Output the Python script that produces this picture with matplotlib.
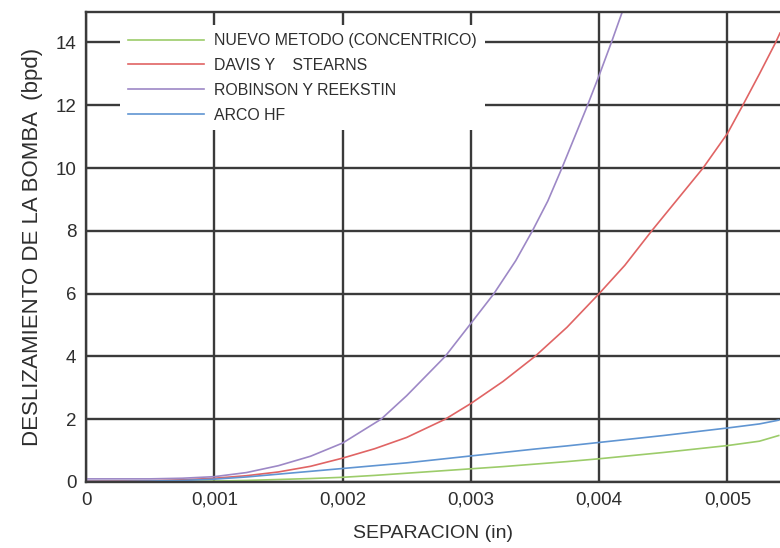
import matplotlib
matplotlib.use('Agg')
import matplotlib.pyplot as plt

plt.rcParams['font.family'] = ['Liberation Sans', 'DejaVu Sans']

# separacion (in)
sep = [0, 0.00025, 0.0005, 0.00075, 0.001, 0.00125, 0.0015, 0.00175, 0.002,
       0.00225, 0.0025, 0.00275, 0.003, 0.00325, 0.0035, 0.00375, 0.004,
       0.00425, 0.0045, 0.00475, 0.005, 0.00525, 0.0054]

# deslizamiento (bpd): nuevo metodo y ARCO HF
nuevo = [0.0, 0.0, 0.01, 0.02, 0.03, 0.05, 0.08, 0.11, 0.15, 0.21, 0.28, 0.35,
         0.42, 0.49, 0.57, 0.65, 0.74, 0.84, 0.94, 1.05, 1.16, 1.30, 1.48]
arco = [0.02, 0.02, 0.03, 0.05, 0.09, 0.16, 0.25, 0.34, 0.43, 0.52, 0.61, 0.72,
        0.83, 0.94, 1.05, 1.15, 1.26, 1.37, 1.48, 1.60, 1.72, 1.85, 1.97]

# Davis y Stearns, puntos mas densos donde la curva sube rapido
davis_sep = [0, 0.0005, 0.00075, 0.001, 0.00125, 0.0015, 0.00175, 0.002,
             0.00225, 0.0025, 0.0028, 0.003, 0.00325, 0.0035, 0.00375, 0.004,
             0.0042, 0.00441, 0.0046, 0.00481, 0.005, 0.00512, 0.00525,
             0.005376, 0.00541]
davis = [0.03, 0.04, 0.07, 0.12, 0.20, 0.32, 0.50, 0.76, 1.06, 1.42, 2.0, 2.5,
         3.2, 4.0, 4.93, 6.0, 6.9, 8.0, 8.95, 10.0, 11.1, 12.0, 13.0, 14.0, 14.3]

# Robinson y Reekstin
rob_sep = [0, 0.0005, 0.00075, 0.001, 0.00125, 0.0015, 0.00175, 0.002, 0.0023,
           0.0025, 0.0028, 0.003, 0.00318, 0.00335, 0.00348, 0.0036, 0.00371,
           0.0039, 0.004, 0.0041, 0.0042]
robinson = [0.10, 0.10, 0.12, 0.17, 0.30, 0.52, 0.82, 1.24, 2.0, 2.75, 4.0,
            5.05, 6.0, 7.05, 8.0, 8.95, 10.0, 11.9, 12.95, 14.05, 15.2]

xticks = [0, 0.001, 0.002, 0.003, 0.004, 0.005]
xlabels = ['0', '0,001', '0,002', '0,003', '0,004', '0,005']
yticks = [0, 2, 4, 6, 8, 10, 12, 14]

fig = plt.figure(figsize=(7.8, 5.48), dpi=100)
ax = fig.add_axes([86 / 780, 1 - 482 / 548, 1 - 86 / 780, 470 / 548])

ax.plot(sep, nuevo, color='#9ccc6a', lw=1.2, label='NUEVO METODO (CONCENTRICO)')
ax.plot(davis_sep, davis, color='#e06464', lw=1.2, label='DAVIS Y    STEARNS')
ax.plot(rob_sep, robinson, color='#9d88c6', lw=1.2, label='ROBINSON Y REEKSTIN')
ax.plot(sep, arco, color='#6095d2', lw=1.2, label='ARCO HF')

ax.set_xlim(0, 0.00541)
ax.set_ylim(0, 14.97)
ax.set_xticks(xticks)
ax.set_xticklabels(xlabels)
ax.set_yticks(yticks)
ax.tick_params(length=0, labelsize=13.5, labelcolor='#2e2e2e', pad=7)
ax.grid(True, color='#3a3a3a', lw=1.7)
ax.set_axisbelow(True)
for side in ['left', 'bottom', 'top']:
    ax.spines[side].set_color('#3a3a3a')
    ax.spines[side].set_linewidth(1.7)
ax.spines['right'].set_visible(False)

ax.set_xlabel('SEPARACION (in)', fontsize=14, color='#2e2e2e', labelpad=12)
ax.set_ylabel('DESLIZAMIENTO DE LA BOMBA  (bpd)', fontsize=16, color='#2e2e2e', labelpad=9)

leg = ax.legend(loc='upper left', bbox_to_anchor=(0.049, 0.972), fontsize=11.4,
                frameon=True, fancybox=False, framealpha=1, facecolor='white',
                edgecolor='none', handlelength=4.8, handletextpad=0.63,
                labelspacing=0.62, borderpad=0.5, borderaxespad=0)
for t in leg.get_texts():
    t.set_color('#2e2e2e')

fig.savefig('out.png', dpi=100)
